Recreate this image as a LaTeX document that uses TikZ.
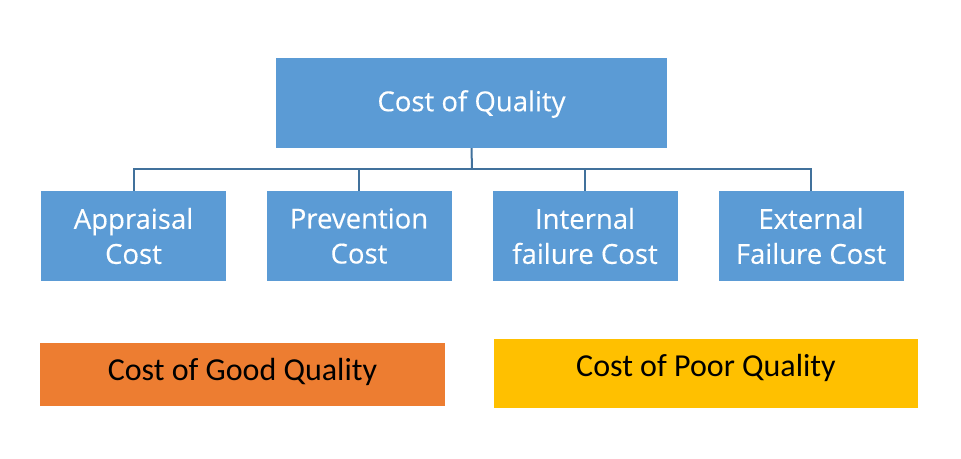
\documentclass[tikz,border=0pt]{standalone}
\usepackage{fontspec}
\setmainfont{Carlito}
\newfontfamily\boxfont[FakeBold=0.3]{Open Sans}
\definecolor{cblue}{HTML}{5B9BD5}
\definecolor{cline}{HTML}{41719C}
\definecolor{corange}{HTML}{ED7D31}
\definecolor{cyellow}{HTML}{FFC000}
\begin{document}
\begin{tikzpicture}[x=1pt,y=-1pt,
  bluebox/.style={fill=cblue,draw=none,text=white,align=center,inner sep=0pt,font=\boxfont\fontsize{27.5}{35}\selectfont},
  bottombox/.style={draw=none,text=black,inner sep=0pt,font=\fontsize{32}{38}\selectfont},
  conn/.style={draw=cline,line width=2pt}]
\useasboundingbox (0,0) rectangle (961,458);
\node[bluebox,minimum width=391pt,minimum height=90pt] (top) at (471.5,103) {};
\node[bluebox,fill=none] (topt) at (471.5,104) {Cost of Quality};
\node[bluebox,minimum width=185pt,minimum height=90pt] (a) at (133.5,236) {Appraisal\\Cost};
\node[bluebox,minimum width=185pt,minimum height=90pt] (b) at (359,236) {Prevention\\Cost};
\node[bluebox,minimum width=185pt,minimum height=90pt] (c) at (585,236) {Internal\\failure Cost};
\node[bluebox,minimum width=185pt,minimum height=90pt] (d) at (811,236) {External\\Failure Cost};
\node[bottombox,fill=corange,minimum width=405pt,minimum height=63pt] (good) at (242.5,374.5) {};
\node[bottombox] (goodt) at (242.5,372) {Cost of Good Quality};
\node[bottombox,fill=cyellow,minimum width=424pt,minimum height=69pt] (poor) at (706,373.5) {};
\node[bottombox] (poort) at (706,368) {Cost of Poor Quality};
\coordinate (hub) at (472,169);
\draw[conn] (top.south) -- (hub);
\draw[conn] (a.north) |- (hub) -| (d.north);
\draw[conn] (b.north) -- (b.north |- hub);
\draw[conn] (c.north) -- (c.north |- hub);
\end{tikzpicture}
\end{document}
